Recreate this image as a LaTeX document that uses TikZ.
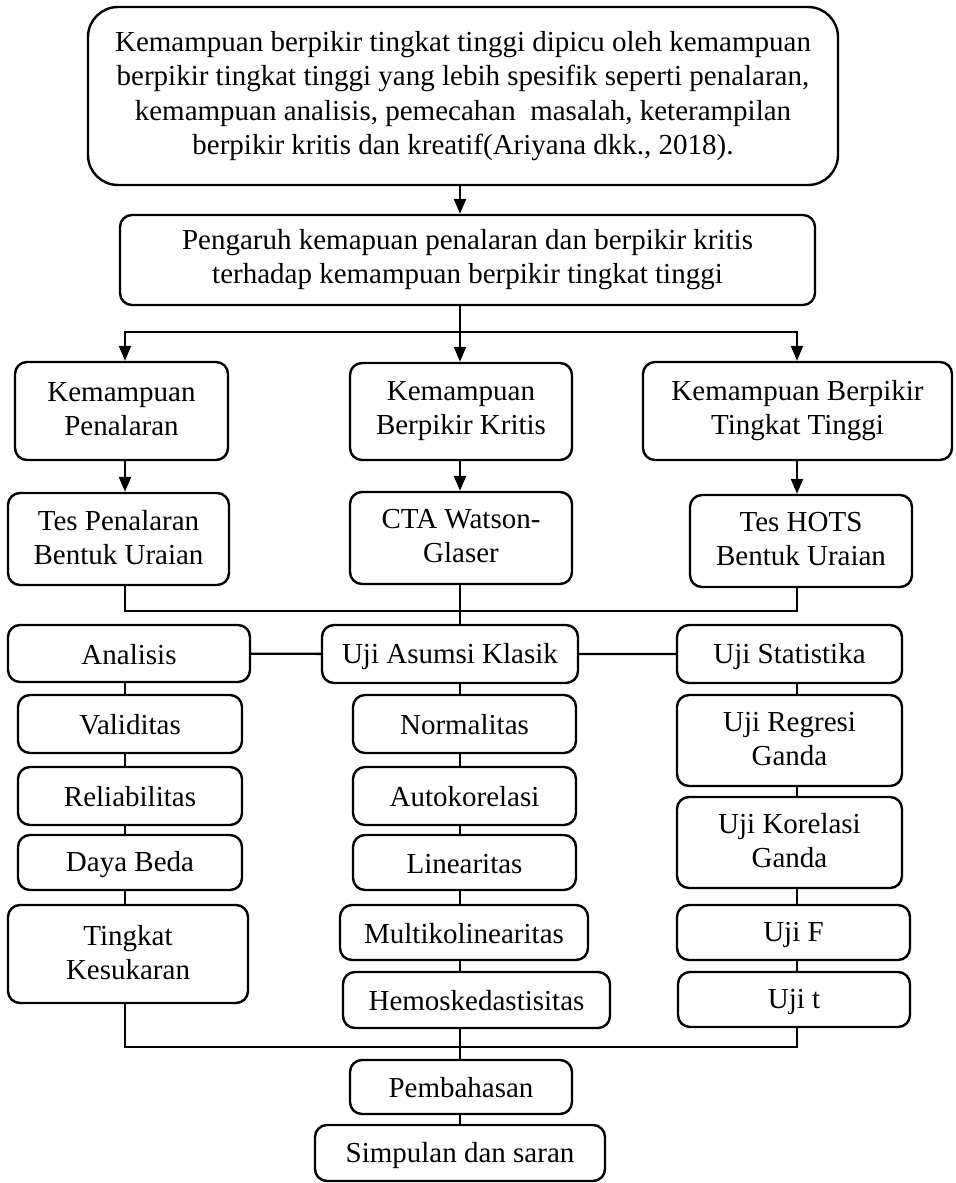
\documentclass[tikz,border=0pt]{standalone}
\usepackage{fontspec}
\setmainfont{Liberation Serif}
\usepackage{tikz}
\usetikzlibrary{arrows.meta}
\newcommand\boxstrut{\rule[-2pt]{0pt}{14.5pt}}

\begin{document}
\begin{tikzpicture}[x=0.5pt,y=-0.5pt,
    box/.style={draw, line width=1.2pt, rounded corners=6pt, align=center, inner sep=0pt,
      font=\fontsize{14.5}{17}\selectfont,
      execute at begin node={\boxstrut}, execute at end node={\boxstrut}},
    sz/.style 2 args={minimum width=#1*0.5pt, minimum height=#2*0.5pt},
    link/.style={line width=1.2pt},
    arr/.style={line width=1.2pt, -{Triangle[length=7.5pt,width=6pt]}}]
          \useasboundingbox (0,0) rectangle (956,1183);
          \coordinate (cl) at (125,0);
          \coordinate (cm) at (460,0);
          \coordinate (cr) at (797,0);
          \node[box, sz={750}{178}, rounded corners=15pt, font=\fontsize{14.5}{17.3}\selectfont] (top) at (463,96)
            {Kemampuan berpikir tingkat tinggi dipicu oleh kemampuan\\ berpikir tingkat tinggi yang lebih spesifik seperti penalaran,\\ kemampuan analisis, pemecahan\ \ masalah, keterampilan\\ berpikir kritis dan kreatif(Ariyana dkk., 2018).};
          \node[box, sz={695}{90}] (peng) at (467.5,260) {Pengaruh kemapuan penalaran dan berpikir kritis\\ terhadap kemampuan berpikir tingkat tinggi};
          \node[box, sz={213}{98}] (kp) at (121.5,411) {Kemampuan\\ Penalaran};
          \node[box, sz={222}{97}] (kbk) at (461,411.5) {Kemampuan\\ Berpikir Kritis};
          \node[box, sz={309}{98}] (kbt) at (797.5,411) {Kemampuan Berpikir\\ Tingkat Tinggi};
          \node[box, sz={221}{92}] (tpb) at (118.5,539) {Tes Penalaran\\ Bentuk Uraian};
          \node[box, sz={222}{92}] (cta) at (461,538) {CTA Watson-\\ Glaser};
          \node[box, sz={222}{92}] (hots) at (801,541) {Tes HOTS\\ Bentuk Uraian};
          \node[box, sz={242}{57}] (ana) at (129,653.5) {Analisis};            % Analisis
          \node[box, sz={256}{58}] (uak) at (450,654) {Uji Asumsi Klasik};     % Asumsi
          \node[box, sz={225}{58}] (ust) at (789.5,654) {Uji Statistika};      % Statistika
          \node[box, sz={224}{58}] (val) at (130,724) {Validitas};
          \node[box, sz={224}{58}] (rel) at (130,796) {Reliabilitas};
          \node[box, sz={224}{55}] (dbe) at (130,862.5) {Daya Beda};
          \node[box, sz={240}{98}] (tks) at (128,954) {Tingkat\\ Kesukaran};
          \node[box, sz={223}{58}] (nor) at (464.5,724) {Normalitas};
          \node[box, sz={223}{58}] (aut) at (464.5,796) {Autokorelasi};
          \node[box, sz={223}{55}] (lin) at (464.5,862.5) {Linearitas};
          \node[box, sz={248}{55}] (mul) at (464,932.5) {Multikolinearitas};
          \node[box, sz={267}{56}] (hem) at (476.5,1000) {Hemoskedastisitas};
          \node[box, sz={225}{91}] (urg) at (789.5,740.5) {Uji Regresi\\ Ganda};
          \node[box, sz={225}{91}] (ukg) at (789.5,842.5) {Uji Korelasi\\ Ganda};
          \node[box, sz={233}{55}] (ujf) at (793.5,932.5) {Uji F};
          \node[box, sz={232}{55}] (ujt) at (794,999.5) {Uji t};
          \node[box, sz={222}{54}] (pem) at (461,1087) {Pembahasan};
          \node[box, sz={290}{56}] (sim) at (460,1153) {Simpulan dan saran};
          % arrows down to the three abilities
          \coordinate (split) at (460,332);
          \draw[arr] (top.south -| cm) -- (peng.north -| cm);
          \draw[link] (peng.south -| cm) -- (split);
          \draw[arr] (split) -| (kp.north -| cl);
          \draw[arr] (split) -- (kbk.north -| cm);
          \draw[arr] (split) -| (kbt.north -| cr);
          \draw[arr] (kp.south -| cl) -- (tpb.north -| cl);
          \draw[arr] (kbk.south -| cm) -- (cta.north -| cm);
          \draw[arr] (kbt.south -| cr) -- (hots.north -| cr);
          % tests joined to the analysis row
          \coordinate (join1) at (460,611);
          \draw[link] (tpb.south -| cl) |- (join1) -| (hots.south -| cr);
          \draw[link] (cta.south -| cm) -- (uak.north -| cm);
          \draw[link] (ana) -- (uak) -- (ust);
          \foreach \a/\b in {ana/val, val/rel, rel/dbe, dbe/tks}
            \draw[link] (\a.south -| cl) -- (\b.north -| cl);
          \foreach \a/\b in {uak/nor, nor/aut, aut/lin, lin/mul, mul/hem}
            \draw[link] (\a.south -| cm) -- (\b.north -| cm);
          \foreach \a/\b in {ust/urg, urg/ukg, ukg/ujf, ujf/ujt}
            \draw[link] (\a.south -| cr) -- (\b.north -| cr);
          % everything into the discussion
          \coordinate (join2) at (460,1047);
          \draw[link] (tks.south -| cl) |- (join2) -| (ujt.south -| cr);
          \draw[link] (hem.south -| cm) -- (pem.north -| cm);
          \draw[link] (pem.south -| cm) -- (sim.north -| cm);
\end{tikzpicture}
\end{document}
